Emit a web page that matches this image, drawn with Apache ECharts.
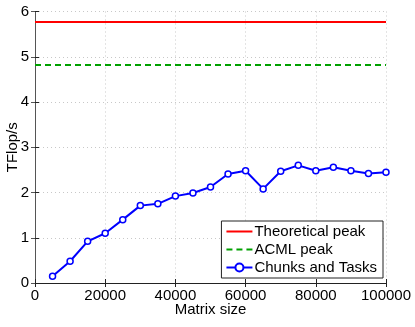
<!DOCTYPE html>
<html>
<head>
<meta charset="utf-8">
<script src="https://cdn.jsdelivr.net/npm/echarts@6/dist/echarts.min.js"></script>
<style>
  html, body { margin: 0; padding: 0; background: #fff; }
  #chart { width: 415px; height: 327px; }
</style>
</head>
<body>
<div id="chart"></div>
<script>
  // matrix sizes and measured TFlop/s
  var sizes = [5000, 10000, 15000, 20000, 25000, 30000, 35000, 40000, 45000, 50000,
               55000, 60000, 65000, 70000, 75000, 80000, 85000, 90000, 95000, 100000];
  var chunksTasks = [0.15, 0.48, 0.92, 1.10, 1.40, 1.71, 1.75, 1.92, 1.99, 2.12,
                     2.41, 2.48, 2.08, 2.47, 2.60, 2.48, 2.56, 2.48, 2.42, 2.45];
  var theoreticalPeak = 5.77;
  var acmlPeak = 4.82;
  var xRange = [0, 100000];

  var font = 'Liberation Sans, Arial, sans-serif';
  var chart = echarts.init(document.getElementById('chart'));

  var gridLine = { show: true, lineStyle: { color: '#c8c8c8', type: [1, 3], width: 1 } };

  chart.setOption({
    animation: false,
    textStyle: { fontFamily: font },
    grid: { left: 35, right: 29, top: 11.5, bottom: 44, containLabel: false, outerBoundsMode: 'none' },
    legend: {
      orient: 'vertical',
      right: 32,
      bottom: 49,
      itemWidth: 26,
      itemHeight: 10,
      itemGap: 3,
      padding: [3, 6, 3, 4],
      borderColor: '#222',
      borderWidth: 1,
      backgroundColor: '#fff',
      textStyle: { fontFamily: font, fontSize: 15, color: '#000', padding: [0, 0, 0, -3] },
      data: [
        { name: 'Theoretical peak', itemStyle: { opacity: 0 } },
        { name: 'ACML peak', itemStyle: { opacity: 0 } },
        { name: 'Chunks and Tasks' }
      ]
    },
    xAxis: [{
      type: 'value',
      min: 0, max: 100000, interval: 20000,
      name: 'Matrix size',
      nameLocation: 'middle',
      nameGap: 19,
      nameMoveOverlap: false,
      nameTextStyle: { fontSize: 15, color: '#000', fontFamily: font },
      axisLine: { lineStyle: { color: '#222' } },
      axisTick: { inside: true, length: 4, lineStyle: { color: '#222' } },
      axisLabel: { fontSize: 15, color: '#000', margin: 5, fontFamily: font,
                   formatter: function (v) { return String(v); } },
      splitLine: gridLine
    }, {
      type: 'value', position: 'top',
      min: 0, max: 100000, interval: 20000,
      axisLine: { show: true, lineStyle: { color: '#222' } },
      axisTick: { inside: true, length: 4, lineStyle: { color: '#222' } },
      axisLabel: { show: false },
      splitLine: { show: false }
    }],
    yAxis: [{
      type: 'value',
      min: 0, max: 6, interval: 1,
      name: 'TFlop/s',
      nameLocation: 'middle',
      nameGap: 15,
      nameMoveOverlap: false,
      nameTextStyle: { fontSize: 15, color: '#000', fontFamily: font },
      axisLine: { show: true, lineStyle: { color: '#222' } },
      axisTick: { show: true, inside: true, length: 4, lineStyle: { color: '#222' } },
      axisLabel: { fontSize: 15, color: '#000', margin: 6, fontFamily: font },
      splitLine: gridLine
    }, {
      type: 'value', position: 'right',
      min: 0, max: 6, interval: 1,
      axisLine: { show: true, lineStyle: { color: '#555' } },
      axisTick: { show: true, inside: true, length: 4, lineStyle: { color: '#555' } },
      axisLabel: { show: false },
      splitLine: { show: false }
    }],
    series: [{
      name: 'Theoretical peak',
      type: 'line',
      symbol: 'none',
      color: '#ff0000',
      lineStyle: { width: 2, color: '#ff0000' },
      data: xRange.map(function (x) { return [x, theoreticalPeak]; })
    }, {
      name: 'ACML peak',
      type: 'line',
      symbol: 'none',
      color: '#00a000',
      lineStyle: { width: 2, color: '#00a000', type: [6, 4] },
      data: xRange.map(function (x) { return [x, acmlPeak]; })
    }, {
      name: 'Chunks and Tasks',
      type: 'line',
      symbol: 'circle',
      symbolSize: 6,
      color: '#0000ff',
      itemStyle: { color: '#fff', borderColor: '#0000ff', borderWidth: 1.5 },
      lineStyle: { width: 2, color: '#0000ff' },
      data: sizes.map(function (x, i) { return [x, chunksTasks[i]]; })
    }]
  });
</script>
</body>
</html>
